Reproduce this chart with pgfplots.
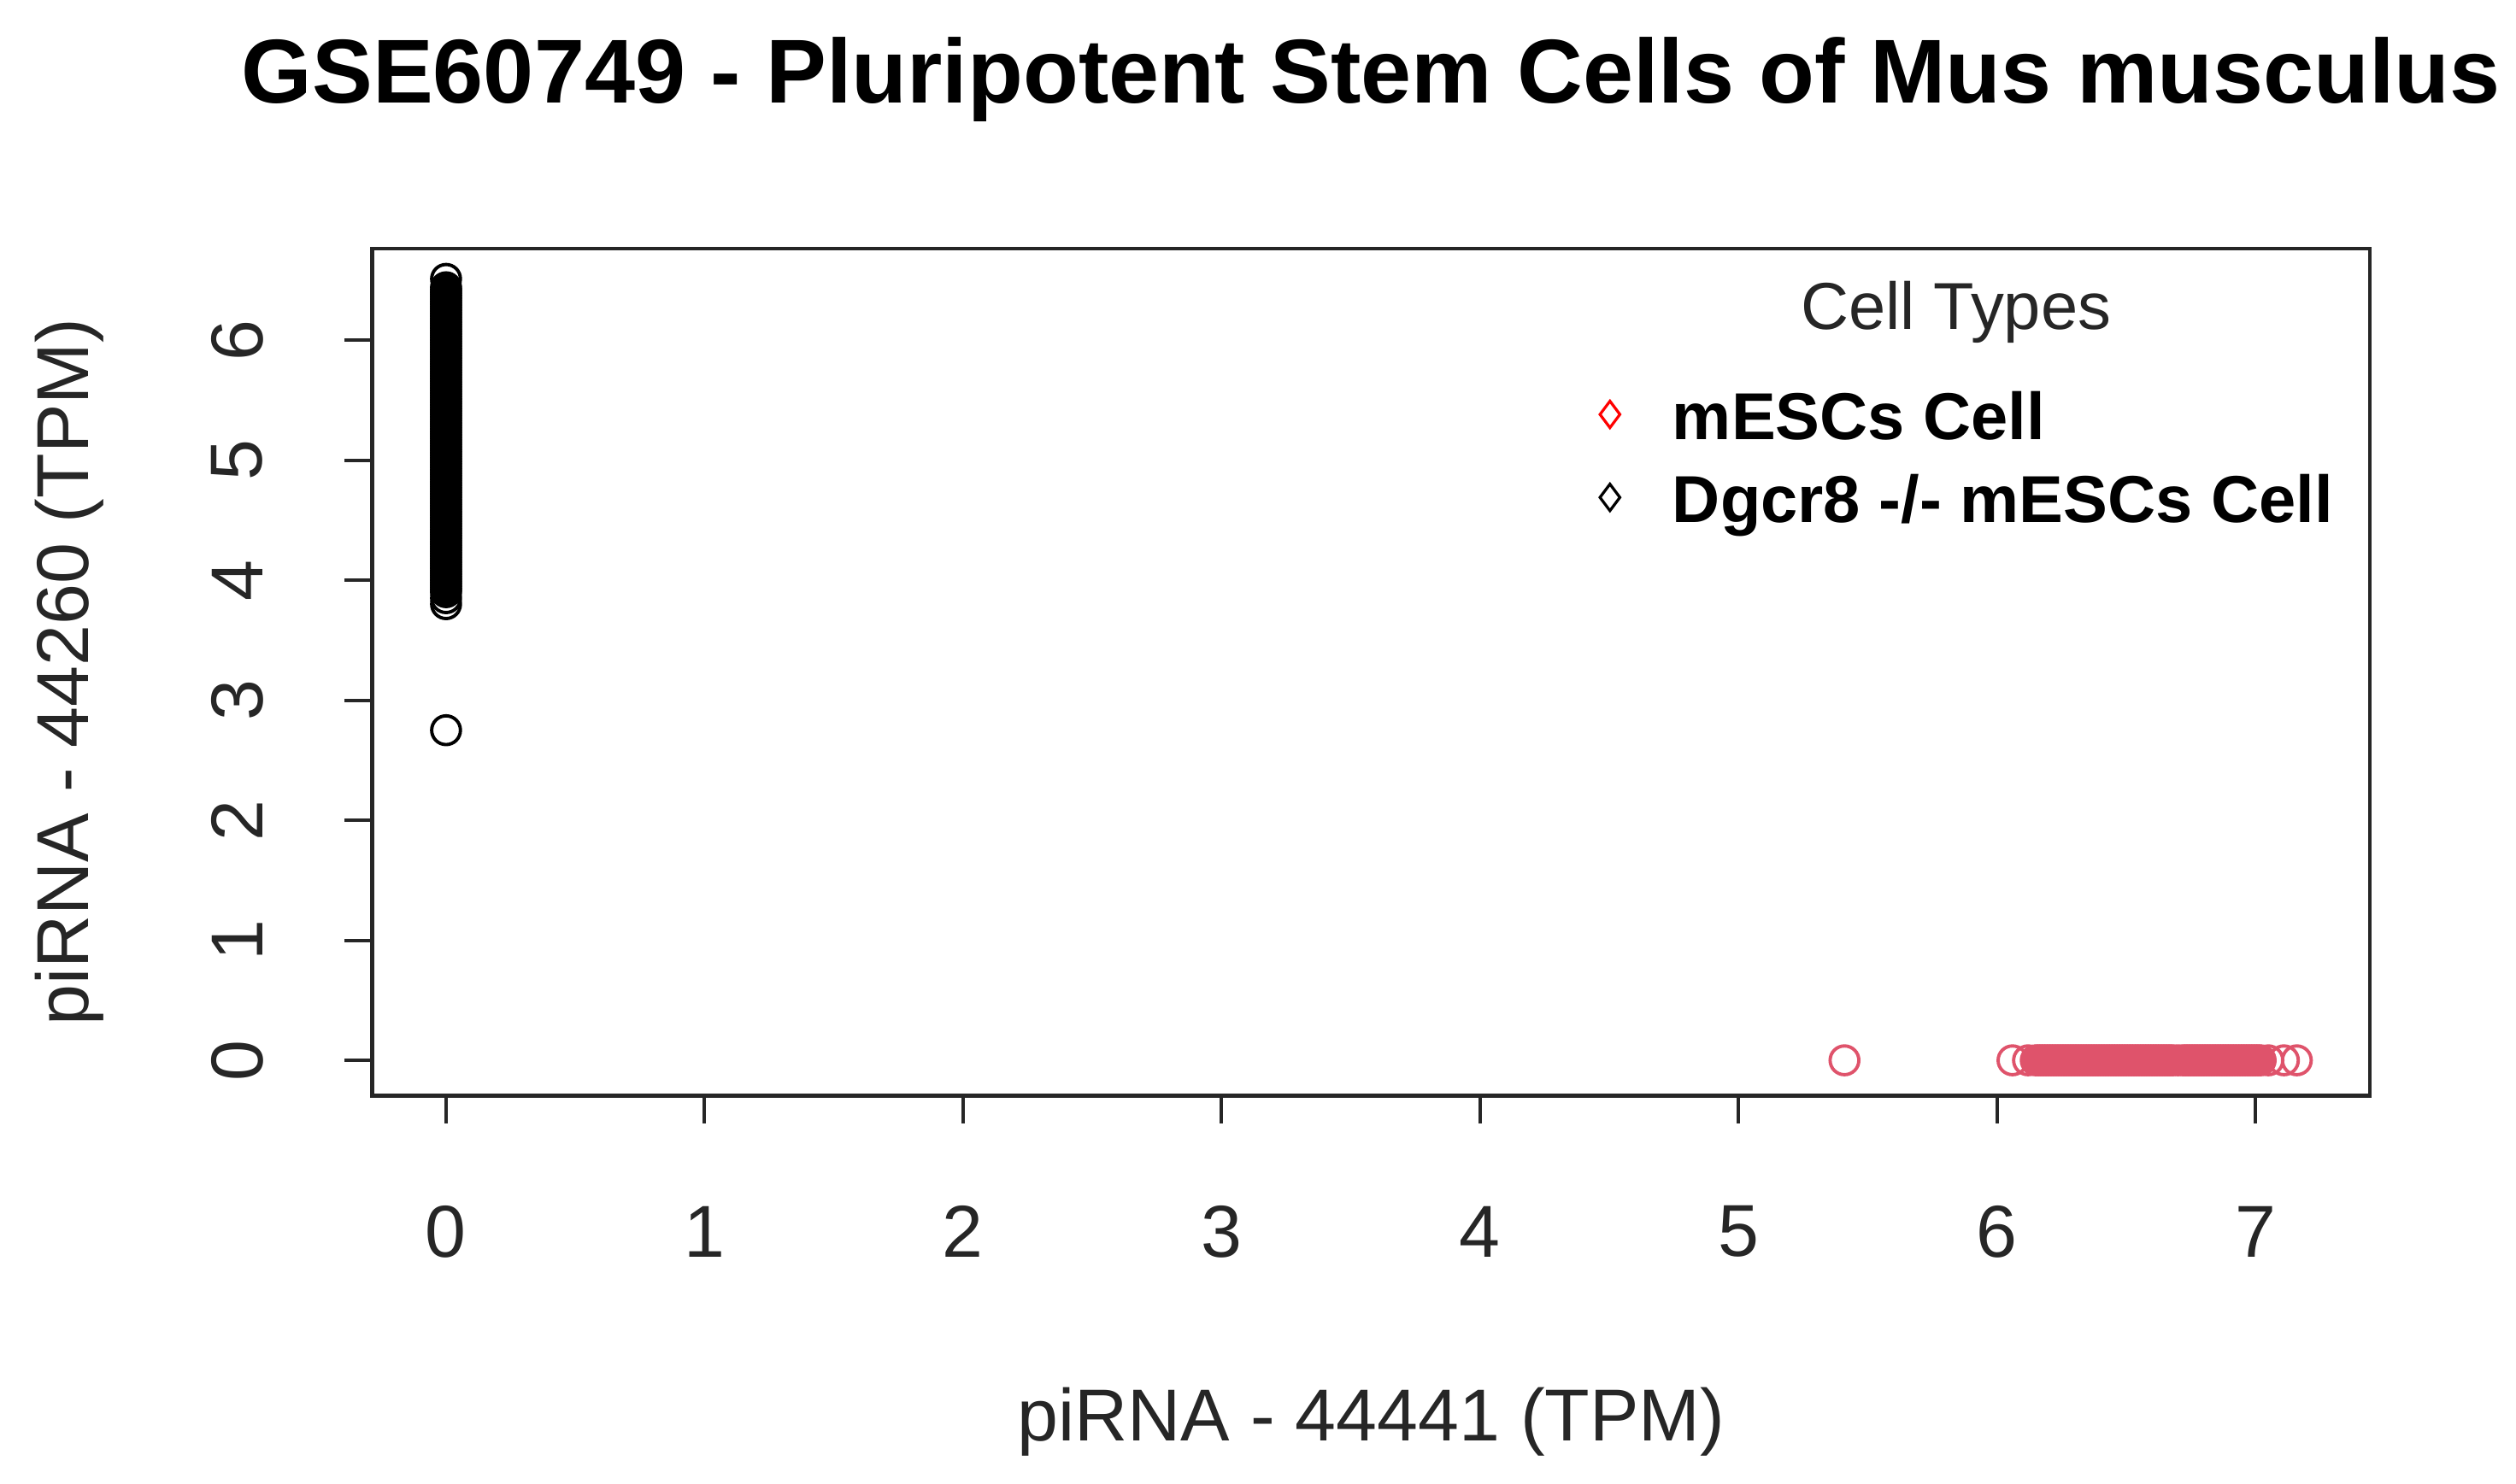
\documentclass[border=0pt]{standalone}
\usepackage{fontspec}
\setmainfont{Liberation Sans}
\usepackage{pgfplots}
\pgfplotsset{compat=1.18}
\definecolor{rred}{HTML}{DF536B}

\begin{document}
\begin{tikzpicture}
% page = 1568 x 925 reference px, 1 px = 0.29pt; axis box at the origin
\useasboundingbox (-67.28pt,-70.18pt) rectangle (387.44pt,198.07pt);
\begin{axis}[
    scale only axis, width=361.05pt, height=153.12pt,
    xmin=-0.2855, xmax=7.443, ymin=-0.294, ymax=6.762,
    xtick={0,1,2,3,4,5,6,7}, ytick={0,1,2,3,4,5,6},
    tick align=outside, tick pos=left, major tick length=5pt,
    axis line style={line width=0.7pt, black!85},
    tick style={line width=0.6pt, black!85},
    /pgf/number format/assume math mode=true,
    tick label style={font=\fontsize{13.3}{16}\selectfont, text=black!85},
    xticklabel style={anchor=center, yshift=-19.6pt},
    yticklabel style={rotate=90, anchor=center, yshift=19.4pt},
    title={GSE60749 - Pluripotent Stem Cells of Mus musculus},
    title style={at={(axis description cs:0.5,1)}, anchor=base, yshift=20.3pt,
        font=\bfseries\fontsize{16.4}{20}\selectfont},
    xlabel={piRNA - 44441 (TPM)},
    xlabel style={at={(axis description cs:0.5,0)}, anchor=base, yshift=-62.4pt,
        font=\fontsize{13.3}{16}\selectfont, text=black!85},
    ylabel={piRNA - 44260 (TPM)},
    ylabel style={at={(axis description cs:0,0.5)}, anchor=base, yshift=51.3pt,
        font=\fontsize{13.3}{16}\selectfont, text=black!85},
    legend style={draw=none, fill=none, at={(rel axis cs:0.6057,0.848)}, anchor=north west,
        font=\bfseries\fontsize{12}{14.5}\selectfont,
        nodes={inner sep=0pt, text height=9pt, text depth=3pt},
        row sep=3pt, /tikz/every odd column/.append style={column sep=9.5pt}},
    legend image post style={yshift=1.5pt},
    legend cell align=left,
]
\addlegendimage{only marks, mark=diamond, mark size=2.4pt, red, mark options={line width=0.5pt}}
\addlegendimage{only marks, mark=diamond, mark size=2.4pt, black, mark options={line width=0.5pt}}
\legend{mESCs Cell, Dgcr8 -/- mESCs Cell}

% Dgcr8 -/- mESCs: piRNA-44441 = 0
\addplot[only marks, mark=o, mark size=2.6pt, black, line width=0.6pt, forget plot] coordinates {
(0,2.75) (0,3.80) (0,3.85)
(0,3.90) (0,3.92) (0,3.94) (0,3.96) (0,3.98) (0,4.00) (0,4.02) (0,4.04) (0,4.06) (0,4.08)
(0,4.10) (0,4.12) (0,4.14) (0,4.16) (0,4.18) (0,4.20) (0,4.22) (0,4.24) (0,4.26) (0,4.28)
(0,4.30) (0,4.32) (0,4.34) (0,4.36) (0,4.38) (0,4.40) (0,4.42) (0,4.44) (0,4.46) (0,4.48)
(0,4.50) (0,4.52) (0,4.54) (0,4.56) (0,4.58) (0,4.60) (0,4.62) (0,4.64) (0,4.66) (0,4.68)
(0,4.70) (0,4.72) (0,4.74) (0,4.76) (0,4.78) (0,4.80) (0,4.82) (0,4.84) (0,4.86) (0,4.88)
(0,4.90) (0,4.92) (0,4.94) (0,4.96) (0,4.98) (0,5.00) (0,5.02) (0,5.04) (0,5.06) (0,5.08)
(0,5.10) (0,5.12) (0,5.14) (0,5.16) (0,5.18) (0,5.20) (0,5.22) (0,5.24) (0,5.26) (0,5.28)
(0,5.30) (0,5.32) (0,5.34) (0,5.36) (0,5.38) (0,5.40) (0,5.42) (0,5.44) (0,5.46) (0,5.48)
(0,5.50) (0,5.52) (0,5.54) (0,5.56) (0,5.58) (0,5.60) (0,5.62) (0,5.64) (0,5.66) (0,5.68)
(0,5.70) (0,5.72) (0,5.74) (0,5.76) (0,5.78) (0,5.80) (0,5.82) (0,5.84) (0,5.86) (0,5.88)
(0,5.90) (0,5.92) (0,5.94) (0,5.96) (0,5.98) (0,6.00) (0,6.02) (0,6.04) (0,6.06) (0,6.08)
(0,6.10) (0,6.12) (0,6.14) (0,6.16) (0,6.18) (0,6.20) (0,6.22) (0,6.24) (0,6.26) (0,6.28)
(0,6.30) (0,6.32) (0,6.34) (0,6.36) (0,6.38) (0,6.40) (0,6.42) (0,6.44) (0,6.51)
};
% mESCs: piRNA-44260 = 0
\addplot[only marks, mark=o, mark size=2.6pt, rred, line width=0.6pt, forget plot] coordinates {
(5.41,0) (6.06,0) (6.12,0)
(6.15,0) (6.16,0) (6.17,0) (6.18,0) (6.19,0) (6.20,0) (6.21,0) (6.22,0) (6.23,0) (6.24,0)
(6.25,0) (6.26,0) (6.27,0) (6.28,0) (6.29,0) (6.30,0) (6.31,0) (6.32,0) (6.33,0) (6.34,0)
(6.35,0) (6.36,0) (6.37,0) (6.38,0) (6.39,0) (6.40,0) (6.41,0) (6.42,0) (6.43,0) (6.44,0)
(6.45,0) (6.46,0) (6.47,0) (6.48,0) (6.49,0) (6.50,0) (6.51,0) (6.52,0) (6.53,0) (6.54,0)
(6.55,0) (6.56,0) (6.57,0) (6.58,0) (6.59,0) (6.60,0) (6.61,0) (6.62,0) (6.63,0) (6.64,0)
(6.65,0) (6.66,0) (6.67,0) (6.68,0) (6.70,0) (6.72,0) (6.73,0) (6.74,0) (6.75,0) (6.76,0)
(6.77,0) (6.78,0) (6.79,0) (6.80,0) (6.81,0) (6.82,0) (6.83,0) (6.84,0) (6.85,0) (6.86,0)
(6.87,0) (6.88,0) (6.89,0) (6.90,0) (6.91,0) (6.92,0) (6.93,0) (6.94,0) (6.95,0) (6.96,0)
(6.97,0) (6.98,0) (6.99,0) (7.00,0) (7.01,0) (7.02,0) (7.05,0) (7.11,0) (7.16,0)
};
\node[anchor=base, font=\fontsize{12}{14.5}\selectfont, text=black!85]
    at (rel axis cs:0.7928,0.905) {Cell Types};
\end{axis}
\end{tikzpicture}
\end{document}
